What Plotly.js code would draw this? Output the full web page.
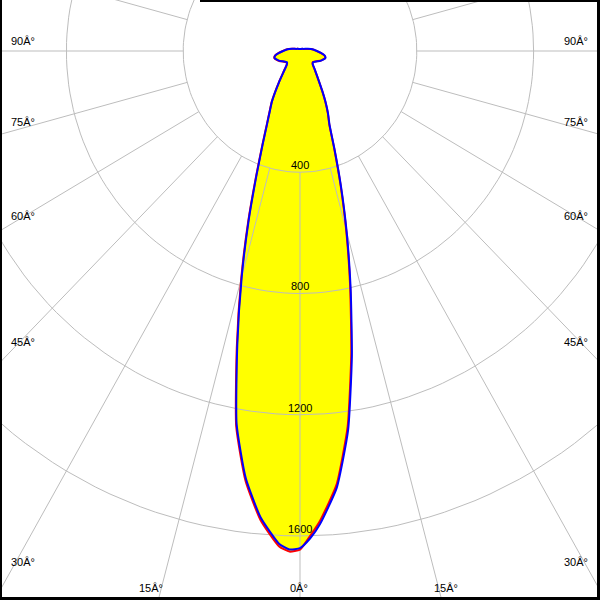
<!DOCTYPE html>
<html>
<head>
<meta charset="utf-8">
<script src="https://cdn.plot.ly/plotly-3.0.1.min.js"></script>
<style>
html,body{margin:0;padding:0;background:#fff;}
#chart{width:600px;height:600px;}
</style>
</head>
<body>
<div id="chart"></div>
<script>
// Vertical angles (gamma, degrees)
const gamma = [0,1.25,2.5,5,7.5,10,12.5,15,17.5,20,22.5,25,27.5,30,35,40,45,50,55,60,65,70,75,80,85,90,95,100,105,110,120,135,150,165,180];
// Luminous intensity (cd) - C90/C270 plane (blue)
const blueLeft  = [1640,1645,1628,1545,1422,1250,992,771,584,435,335,268,224,192,125,84,64,58,62,68,77,84,90,86,72,58,48,38,28,21,14,10,8,7,7];
const blueRight = [1640,1608,1563,1446,1262,1023,801,617,465,346,265,227,189,153,104,78,62,58,62,68,77,84,90,86,72,58,48,38,28,21,14,10,8,7,7];
// Luminous intensity (cd) - C0/C180 plane (red)
const redLeft   = [1645,1652,1636,1553,1430,1258,1000,778,590,440,338,270,226,194,126,85,65,59,63,69,78,85,91,87,73,59,49,38,28,21,14,10,8,7,7];
const redRight  = [1640,1600,1553,1436,1250,1012,793,611,460,343,262,225,187,152,103,77,61,57,61,67,76,83,89,85,71,57,47,37,27,20,13,10,8,7,7];

// Grid
const radialTicks = [400,800,1200,1600];
const radialLabels = ["400","800","1200","1600"];
const rayAngles = [0,15,30,45,60,75,90,105,120,135,150,165,180,195,210,225,240,255,270,285,300,315,330,345];

// Angle labels (text as shown in the chart)
const leftAngleLabels  = ["90Â°","75Â°","60Â°","45Â°","30Â°"];
const rightAngleLabels = ["90Â°","75Â°","60Â°","45Â°","30Â°"];
const bottomAngleLabels = ["15Â°","0Â°","15Â°"];

const d2r = Math.PI/180;
function curve(left, right){
  const x=[], y=[];
  for(let i=gamma.length-1;i>=0;i--){
    x.push(-left[i]*Math.sin(gamma[i]*d2r));
    y.push(-left[i]*Math.cos(gamma[i]*d2r));
  }
  for(let i=1;i<gamma.length;i++){
    x.push(right[i]*Math.sin(gamma[i]*d2r));
    y.push(-right[i]*Math.cos(gamma[i]*d2r));
  }
  return {x,y};
}
const red = curve(redLeft, redRight);
const blue = curve(blueLeft, blueRight);

// grid circles
const cx=[], cy=[];
radialTicks.forEach(R=>{
  for(let t=0;t<=360;t+=2){
    cx.push(R*Math.sin(t*d2r)); cy.push(-R*Math.cos(t*d2r));
  }
  cx.push(null); cy.push(null);
});
// rays, from the first circle outward
const rx=[], ry=[];
rayAngles.forEach(a=>{
  rx.push(radialTicks[0]*Math.sin(a*d2r), 4000*Math.sin(a*d2r), null);
  ry.push(-radialTicks[0]*Math.cos(a*d2r), -4000*Math.cos(a*d2r), null);
});

const gridColor = '#bdbdbd';
const sm = 0.5;
const traces = [
  {x:red.x, y:red.y, mode:'lines', fill:'toself', fillcolor:'#ffff00', line:{width:0, shape:'spline', smoothing:sm}, hoverinfo:'skip'},
  {x:blue.x, y:blue.y, mode:'lines', fill:'toself', fillcolor:'#ffff00', line:{width:0, shape:'spline', smoothing:sm}, hoverinfo:'skip'},
  {x:cx, y:cy, mode:'lines', line:{color:gridColor, width:1}, hoverinfo:'skip'},
  {x:rx, y:ry, mode:'lines', line:{color:gridColor, width:1}, hoverinfo:'skip'},
  {x:red.x, y:red.y, mode:'lines', line:{color:'#ff0000', width:2, shape:'spline', smoothing:sm}, name:'C0 - C180'},
  {x:blue.x, y:blue.y, mode:'lines', line:{color:'#0000ff', width:2, shape:'spline', smoothing:sm}, name:'C90 - C270'}
];

// scales: px per cd
const sy = 0.3031, sx = 0.292, cyPx = 51;
const font = {family:'"Liberation Sans", Arial, sans-serif', size:11, color:'#000'};

const annotations = [];
radialTicks.forEach((R,i)=>{
  annotations.push({x:0, y:-R, xref:'x', yref:'y', text:radialLabels[i], showarrow:false,
    xanchor:'center', yanchor:'middle', yshift:7, font});
});
const sideY = [41,122.5,216,341.5,561.5];
leftAngleLabels.forEach((t,i)=>{
  annotations.push({x:9/600, y:1-sideY[i]/600, xref:'paper', yref:'paper', text:t, showarrow:false,
    xanchor:'left', yanchor:'middle', font});
});
rightAngleLabels.forEach((t,i)=>{
  annotations.push({x:590/600, y:1-sideY[i]/600, xref:'paper', yref:'paper', text:t, showarrow:false,
    xanchor:'right', yanchor:'middle', font});
});
const bottomX = [151,299,446];
bottomAngleLabels.forEach((t,i)=>{
  annotations.push({x:bottomX[i]/600, y:1-588/600, xref:'paper', yref:'paper', text:t, showarrow:false,
    xanchor:'center', yanchor:'middle', font});
});

const layout = {
  width:600, height:600,
  margin:{l:0,r:0,t:0,b:0},
  paper_bgcolor:'#fff', plot_bgcolor:'#fff',
  showlegend:false,
  xaxis:{range:[-300/sx, 300/sx], visible:false, fixedrange:true},
  yaxis:{range:[-(600-cyPx)/sy, cyPx/sy], visible:false, fixedrange:true},
  annotations,
  shapes:[
    {type:'rect', xref:'paper', yref:'paper', x0:0, x1:2/600, y0:0, y1:1, fillcolor:'#000', line:{width:0}},
    {type:'rect', xref:'paper', yref:'paper', x0:0, x1:1, y0:0, y1:3/600, fillcolor:'#000', line:{width:0}},
    {type:'rect', xref:'paper', yref:'paper', x0:597/600, x1:1, y0:0, y1:1, fillcolor:'#000', line:{width:0}},
    {type:'rect', xref:'paper', yref:'paper', x0:200/600, x1:1, y0:1-2/600, y1:1, fillcolor:'#000', line:{width:0}}
  ]
};
Plotly.newPlot('chart', traces, layout, {staticPlot:true, displayModeBar:false});
</script>
</body>
</html>
